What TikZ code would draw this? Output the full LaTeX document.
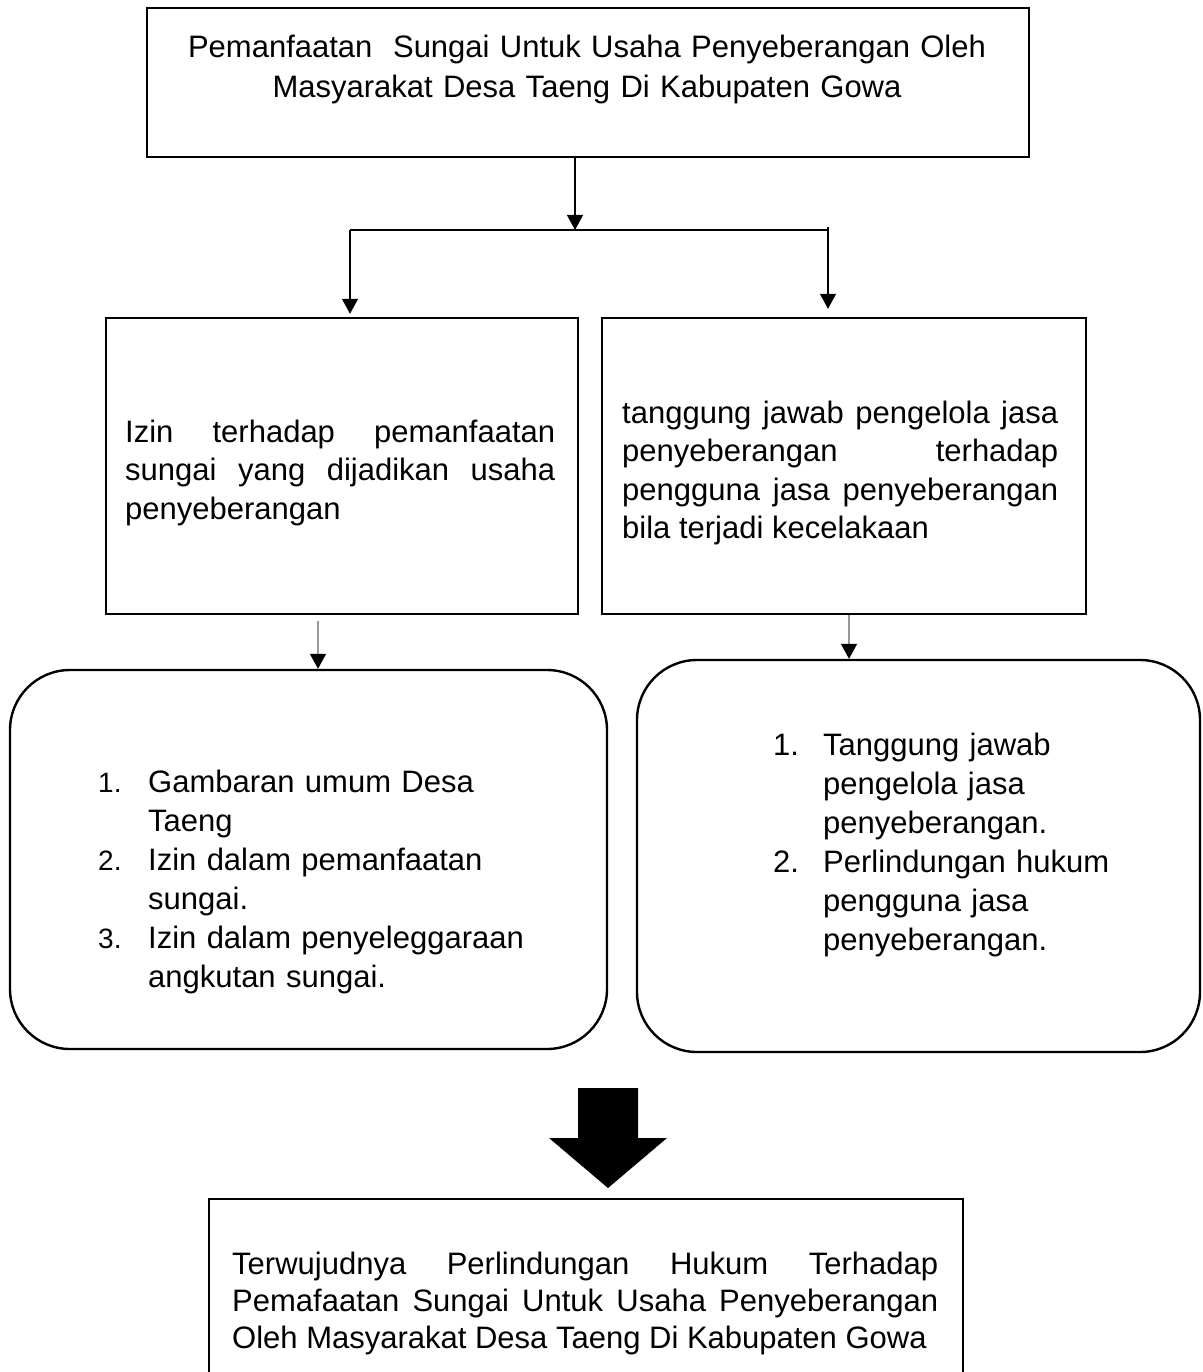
\documentclass[tikz,border=0pt]{standalone}
\usepackage{fontspec}
\setmainfont{Liberation Sans}
\usetikzlibrary{arrows.meta, positioning}
\hyphenpenalty=10000
\exhyphenpenalty=10000
\tolerance=10000
% numbered line with a hanging indent
\newcommand{\numitem}[2]{\hangindent=50pt\hangafter=1\noindent\makebox[50pt][l]{#1}#2\par}

\begin{document}
\begin{tikzpicture}[
    x=1pt, y=-1pt,
    txt/.style={inner sep=0pt, font=\fontsize{31}{38.5}\selectfont},
    listtxt/.style={txt, align=left, font=\fontsize{31}{39}\selectfont},
    boxframe/.style={draw, line width=2.4pt, inner sep=0pt},
    roundframe/.style={boxframe, rounded corners=60pt},
    conn/.style={line width=1.2pt, -{Triangle[width=16pt, length=15pt]}},
    gconn/.style={line width=1.5pt, draw=black!40, -{Triangle[width=16pt, length=15pt, color=black]}},
]
\clip (0,0) rectangle (1202,1372);

% title box
\node[boxframe, minimum width=882pt, minimum height=149pt] (title) at (588,82.5) {};
\node[txt, text width=880pt, align=center, anchor=base, font=\fontsize{31}{40}\selectfont] (titleT) at (587,58)
  {Pemanfaatan~ Sungai Untuk Usaha Penyeberangan Oleh\\Masyarakat Desa Taeng Di Kabupaten Gowa};

% the two questions
\node[boxframe, minimum width=472pt, minimum height=296pt] (izin) at (342,466) {};
\node[txt, text width=430pt, align=justify, anchor=base west] (izinT) at (125,442)
  {Izin terhadap pemanfaatan\linebreak sungai yang dijadikan usaha\linebreak penyeberangan};
\node[boxframe, minimum width=484pt, minimum height=296pt] (tanggung) at (844,466) {};
\node[txt, text width=436pt, align=justify, anchor=base west] (tanggungT) at (622,423)
  {tanggung jawab pengelola jasa\linebreak penyeberangan terhadap\linebreak pengguna jasa penyeberangan\linebreak bila terjadi kecelakaan};

% split from the title
\coordinate (split) at (575,230);
\coordinate (splitL) at (350,230);
\coordinate (splitR) at (828,227.5);
\draw[conn] (split |- title.south) -- (split);
\draw[line width=1.2pt] (splitL) -- (splitR |- splitL);
\draw[conn, shorten >=3pt] (splitL) -- (splitL |- izin.north);
\draw[conn, shorten >=8pt] (splitR) -- (splitR |- tanggung.north);

% the two lists
\node[roundframe, minimum width=597pt, minimum height=379pt] (listA) at (308.5,859.5) {};
\node[listtxt, text width=440pt, anchor=base west] (listAT) at (98,792)
  {\numitem{\fontsize{28}{39}\selectfont 1.}{Gambaran umum Desa Taeng}
   \numitem{\fontsize{28}{39}\selectfont 2.}{Izin dalam pemanfaatan sungai.}
   \numitem{\fontsize{28}{39}\selectfont 3.}{Izin dalam penyeleggaraan angkutan sungai.}};
\node[roundframe, minimum width=563pt, minimum height=392pt] (listB) at (918.5,856) {};
\node[listtxt, text width=380pt, anchor=base west] (listBT) at (773,755)
  {\numitem{1.}{Tanggung jawab pengelola jasa penyeberangan.}
   \numitem{2.}{Perlindungan hukum pengguna jasa penyeberangan.}};

\draw[gconn, shorten <=6pt] (izin.south -| 318,0) -- (listA.north -| 318,0);
\draw[gconn] (tanggung.south -| 849,0) -- (listB.north -| 849,0);

% result
\fill (578,1088) -- (638,1088) -- (638,1138) -- (667,1138) -- (608,1188)
  -- (549,1138) -- (578,1138) -- cycle;
\node[boxframe, minimum width=754pt, minimum height=221pt] (result) at (586,1309.5) {};
\node[txt, text width=706pt, align=justify, anchor=base west, font=\fontsize{31}{37}\selectfont] (resultT) at (232,1274)
  {Terwujudnya Perlindungan Hukum Terhadap Pemafaatan Sungai Untuk Usaha Penyeberangan Oleh Masyarakat Desa Taeng Di Kabupaten Gowa};

\end{tikzpicture}
\end{document}
